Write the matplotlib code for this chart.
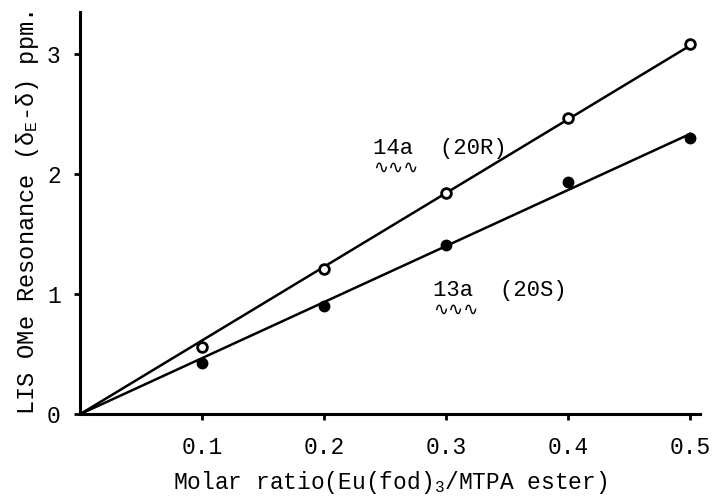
import numpy as np
import matplotlib
matplotlib.use("Agg")
import matplotlib.pyplot as plt

plt.rcParams["font.family"] = ["Liberation Mono", "DejaVu Sans"]
plt.rcParams["mathtext.fontset"] = "custom"
plt.rcParams["mathtext.rm"] = "Liberation Mono"
plt.rcParams["mathtext.it"] = "Liberation Mono"

ratio = [0.1, 0.2, 0.3, 0.4, 0.5]
lis_14a = [0.56, 1.21, 1.84, 2.47, 3.08]   # (20R), open circles
lis_13a = [0.43, 0.90, 1.41, 1.93, 2.30]   # (20S), filled circles
x_ticks = [0.1, 0.2, 0.3, 0.4, 0.5]
y_ticks = [0, 1, 2, 3]

x = np.array(ratio)


def slope_through_origin(y):
    y = np.array(y)
    return np.sum(x * y) / np.sum(x * x)


xl = np.array([0, 0.5])

fig = plt.figure(figsize=(7.15, 4.99), dpi=100)
ax = fig.add_axes([0.112, 0.170, 0.867, 0.806])

ax.plot(xl, slope_through_origin(lis_14a) * xl, color="black", lw=1.8, zorder=2)
ax.plot(xl, slope_through_origin(lis_13a) * xl, color="black", lw=1.8, zorder=2)
ax.plot(ratio, lis_14a, "o", ms=7, mfc="white", mec="black", mew=2, zorder=3)
ax.plot(ratio, lis_13a, "o", ms=7.5, mfc="black", mec="black", zorder=3)

# labels with wavy underline under compound numbers
ax.text(0.240, 2.21, "14a  (20R)", fontsize=16, va="center")
ax.text(0.240, 2.05, "\u223f\u223f\u223f", fontsize=13, va="center",
        family=["DejaVu Sans"])
ax.text(0.289, 1.03, "13a  (20S)", fontsize=16, va="center")
ax.text(0.289, 0.87, "\u223f\u223f\u223f", fontsize=13, va="center",
        family=["DejaVu Sans"])

ax.set_xlim(0, 0.508)
ax.set_ylim(0, 3.35)
ax.set_xticks(x_ticks)
ax.set_xticklabels([str(t) for t in x_ticks])
ax.set_yticks(y_ticks)
ax.set_yticklabels([str(t) for t in y_ticks])
ax.tick_params(labelsize=16.5, length=4, width=2, direction="out")
ax.tick_params(axis="x", pad=12)
ax.tick_params(axis="y", pad=10)

for s in ["top", "right"]:
    ax.spines[s].set_visible(False)
for s in ["left", "bottom"]:
    ax.spines[s].set_linewidth(2.2)

ax.set_xlabel(r"Molar ratio(Eu(fod)$_3$/MTPA ester)", fontsize=16.5, labelpad=7)
ax.set_ylabel(r"LIS OMe Resonance ($\delta_E$-$\delta$) ppm.", fontsize=17, labelpad=4)

fig.savefig("out.png", dpi=100)
